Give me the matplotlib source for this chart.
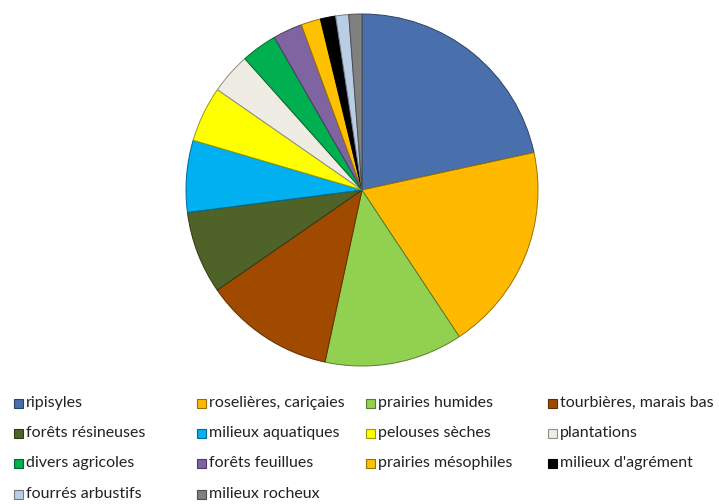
import matplotlib.pyplot as plt
import matplotlib.colors as mcolors
from matplotlib.patches import Rectangle

# part of each habitat (%)
labels = ['ripisyles', 'roselières, cariçaies', 'prairies humides', 'tourbières, marais bas',
          'forêts résineuses', 'milieux aquatiques', 'pelouses sèches', 'plantations',
          'divers agricoles', 'forêts feuillues', 'prairies mésophiles', "milieux d'agrément",
          'fourrés arbustifs', 'milieux rocheux']
values = [21.6, 19.1, 12.7, 12.0, 7.6, 6.6, 5.1, 3.75, 3.3, 2.7, 1.8, 1.4, 1.2, 1.2]
colors = ['#4A6FAD', '#FFBA00', '#92D050', '#A04A00', '#4F6228', '#00B0F0', '#FFFF00',
          '#EEECE3', '#00B050', '#8064A2', '#FFC000', '#000000', '#B9CDE5', '#808080']

plt.rcParams['font.family'] = ['Lato', 'DejaVu Sans']

fig = plt.figure(figsize=(7.19, 5.04), dpi=100)

# pie area: centre (362, 190) px, radius 176 px
W, H = 719, 504
cx, cy, r = 362, 190, 176
ax = fig.add_axes([(cx - r) / W, (H - cy - r) / H, 2 * r / W, 2 * r / H])

edges = [tuple(c * 0.6 for c in mcolors.to_rgb(col)) for col in colors]
wedges, _ = ax.pie(values, colors=colors, startangle=90, counterclock=False,
                   wedgeprops=dict(linewidth=0.7))
for w, e in zip(wedges, edges):
    w.set_edgecolor(e)
ax.set_aspect('equal')
ax.set_xlim(-1.0, 1.0)
ax.set_ylim(-1.0, 1.0)

# legend, four columns, filled row by row
col_x = [14, 197, 366, 548]
row_y = [403, 433, 463, 494]
box = 9
for i, (lab, col, e) in enumerate(zip(labels, colors, edges)):
    x = col_x[i % 4]
    y = row_y[i // 4]
    fig.add_artist(Rectangle((x / W, (H - y - box / 2) / H), box / W, box / H,
                             transform=fig.transFigure, facecolor=col,
                             edgecolor=e, linewidth=0.8))
    fig.text((x + 12) / W, (H - y) / H, lab, fontsize=11.5, color='#222222',
             va='center', ha='left')

fig.savefig('out.png', dpi=100)
